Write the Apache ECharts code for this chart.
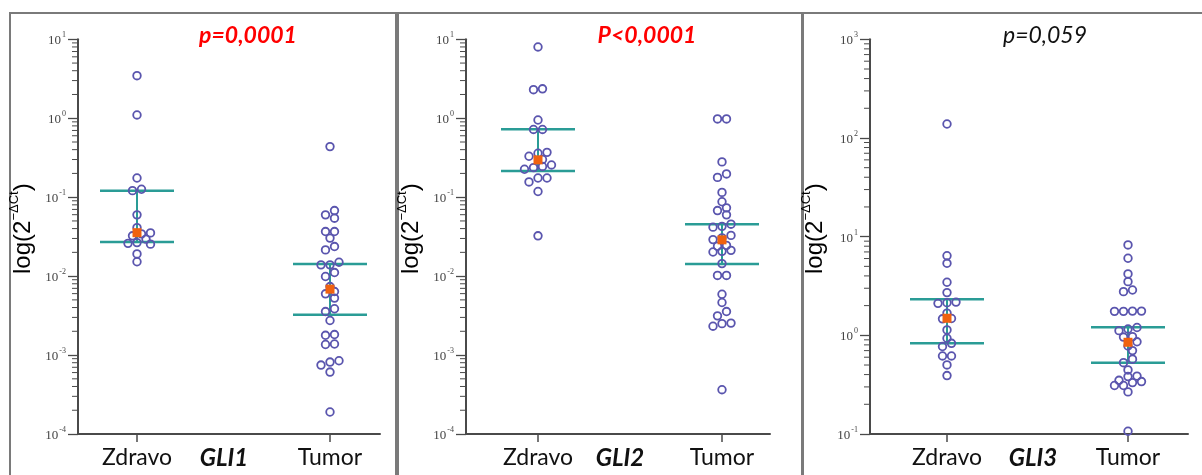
<!DOCTYPE html>
<html>
<head>
<meta charset="utf-8">
<script src="https://cdn.jsdelivr.net/npm/echarts@6/dist/echarts.min.js"></script>
<style>
html,body{margin:0;padding:0;background:#fff;}
#chart{width:1202px;height:475px;}
</style>
</head>
<body>
<div id="chart"></div>
<script>
// ---------------- data ----------------
const categories = ['Zdravo', 'Tumor'];
const genes = ['GLI1', 'GLI2', 'GLI3'];
const pValues = ['p=0,0001', 'P<0,0001', 'p=0,059'];

const gli1Zdravo = [3.46, 1.10, 0.175, 0.126, 0.121, 0.0597, 0.0412, 0.0353, 0.0343, 0.0324, 0.0294, 0.0266, 0.026, 0.0254, 0.0191, 0.0152];
const gli1Tumor = [0.437, 0.0677, 0.0597, 0.0542, 0.0367, 0.0367, 0.0303, 0.0237, 0.0215, 0.0150, 0.0139, 0.0139, 0.0111, 0.00989, 0.00738, 0.00638, 0.00597, 0.00527, 0.00386, 0.00356, 0.00274, 0.00182, 0.00178, 0.00138, 0.00136, 0.000847, 0.000815, 0.000747, 0.000609, 0.00019];
const gli2Zdravo = [8.0, 2.36, 2.30, 0.95, 0.721, 0.721, 0.37, 0.36, 0.33, 0.30, 0.256, 0.245, 0.237, 0.226, 0.175, 0.175, 0.156, 0.118, 0.0324];
const gli2Tumor = [0.98, 0.98, 0.28, 0.197, 0.178, 0.115, 0.0875, 0.0733, 0.0677, 0.0597, 0.0455, 0.0427, 0.0417, 0.0328, 0.0305, 0.029, 0.0245, 0.0239, 0.0212, 0.0206, 0.0202, 0.0144, 0.0102, 0.0102, 0.00589, 0.00463, 0.00356, 0.00314, 0.00254, 0.0025, 0.00232, 0.000364];
const gli3Zdravo = [138.6, 6.41, 5.37, 3.45, 2.71, 2.11, 2.14, 2.17, 1.68, 1.47, 1.48, 1.135, 0.935, 0.77, 0.83, 0.618, 0.618, 0.501, 0.391];
const gli3Tumor = [8.24, 6.04, 4.19, 3.5, 2.77, 2.88, 1.75, 1.75, 1.76, 1.76, 1.115, 1.16, 1.2, 0.97, 0.96, 0.86, 0.78, 0.70, 0.573, 0.528, 0.446, 0.382, 0.386, 0.332, 0.31, 0.31, 0.34, 0.35, 0.267, 0.1066];

// summary lines per category [Zdravo, Tumor]
const gli1Lower = [0.027, 0.00324], gli1Upper = [0.121, 0.0142], gli1Mean = [0.0355, 0.00684];
const gli2Lower = [0.215, 0.0142], gli2Upper = [0.727, 0.0455], gli2Mean = [0.297, 0.0288];
const gli3Lower = [0.832, 0.528], gli3Upper = [2.32, 1.21], gli3Mean = [1.49, 0.85];

// axis ranges (log10 exponents)
const yMinExp = [-4, -4, -1];
const yMaxExp = [1, 1, 3];
const minorMultipliers = [2, 3, 4, 5, 6, 7, 8, 9];

// ---------------- layout / style ----------------
const panelsData = [
  {z: gli1Zdravo, t: gli1Tumor, lo: gli1Lower, hi: gli1Upper, mean: gli1Mean},
  {z: gli2Zdravo, t: gli2Tumor, lo: gli2Lower, hi: gli2Upper, mean: gli2Mean},
  {z: gli3Zdravo, t: gli3Tumor, lo: gli3Lower, hi: gli3Upper, mean: gli3Mean}
];
const layout = [
  {fl: 78, fr: 380, dl: 137, dr: 330, box: [10, 13, 386], title: 248, gene: 224},
  {fl: 466, fr: 770, dl: 538, dr: 722, box: [398, 13, 404], title: 647, gene: 620},
  {fl: 870, fr: 1188, dl: 947, dr: 1128, box: [803, 13, 402], title: 1045, gene: 1033}
];
const TOP = 39.3, BOTTOM = 434;
const teal = '#2a9c96';
const circle = '#5a55ae';
const orange = '#f0620f';
const axisColor = '#4a4a4a';

// beeswarm layout in pixel space: rows of near-equal y centred on the category
const DOT = 9, ROW_TOL = 4.5, MIN_DIST = 6.4;
function swarmOffsets(ys) {
  const order = ys.map((y, i) => i).sort((a, b) => ys[a] - ys[b]);
  const placed = [];
  const off = new Array(ys.length).fill(0);
  let k = 0;
  while (k < order.length) {
    const row = [order[k]];
    const y0 = ys[order[k]];
    k++;
    while (k < order.length && ys[order[k]] - y0 <= ROW_TOL) { row.push(order[k]); k++; }
    row.sort((a, b) => ys[b] - ys[a]);
    const n = row.length;
    const base = row.map((j, i) => (i - (n - 1) / 2) * DOT);
    const shifts = [0, DOT / 2, -DOT / 2, DOT, -DOT, 1.5 * DOT, -1.5 * DOT, 2 * DOT, -2 * DOT];
    let chosen = 0;
    for (const s of shifts) {
      const ok = row.every((j, i) => placed.every(p => Math.hypot(p.x - (base[i] + s), p.y - ys[j]) >= MIN_DIST));
      if (ok) { chosen = s; break; }
    }
    row.forEach((j, i) => { off[j] = base[i] + chosen; placed.push({x: off[j], y: ys[j]}); });
  }
  return off;
}

const grid = [], xAxis = [], yAxis = [], series = [], graphic = [];

layout.forEach((L, p) => {
  const d = panelsData[p];
  const yMin = Math.pow(10, yMinExp[p]), yMax = Math.pow(10, yMaxExp[p]);
  grid.push({left: L.fl, top: TOP, width: L.fr - L.fl, height: BOTTOM - TOP});
  grid.push({left: L.dl, top: TOP, width: L.dr - L.dl, height: BOTTOM - TOP});
  const gf = 2 * p, gd = 2 * p + 1;
  xAxis.push({
    type: 'value', gridIndex: gf, min: 0, max: 1,
    axisLine: {show: true, onZero: false, lineStyle: {color: axisColor, width: 2}},
    axisTick: {show: false}, axisLabel: {show: false}, splitLine: {show: false}
  });
  xAxis.push({
    type: 'category', gridIndex: gd, data: categories, boundaryGap: false,
    axisLine: {show: false},
    axisTick: {show: true, length: 8, lineStyle: {color: axisColor, width: 1.5}},
    axisLabel: {margin: 12, fontFamily: 'Lato', fontSize: 23, color: '#111'},
    splitLine: {show: false}
  });
  yAxis.push({
    type: 'log', gridIndex: gf, min: yMin, max: yMax, logBase: 10,
    splitNumber: yMaxExp[p] - yMinExp[p],
    axisLine: {show: true, lineStyle: {color: axisColor, width: 2}},
    axisTick: {show: true, length: 10, lineStyle: {color: axisColor, width: 1.3}},
    splitLine: {show: false},
    axisLabel: {
      margin: 12,
      formatter: v => '{b|10}{s|' + Math.round(Math.log10(v)) + '}',
      rich: {
        b: {fontFamily: 'Liberation Serif', fontSize: 13, color: '#444', lineHeight: 16, verticalAlign: 'bottom'},
        s: {fontFamily: 'Liberation Serif', fontSize: 8, color: '#444', lineHeight: 16, verticalAlign: 'top', padding: [0, 0, 6, 1]}
      }
    },
    name: '{a|log(2}{s|−ΔCt}{a|)}',
    nameLocation: 'middle', nameRotate: 90, nameGap: 40,
    nameTextStyle: {
      padding: [0, 0, 0, 16],
      rich: {
        a: {fontFamily: 'Liberation Sans', fontSize: 24, color: '#000', lineHeight: 30},
        s: {fontFamily: 'Liberation Sans', fontSize: 13, color: '#000', lineHeight: 30, verticalAlign: 'top'}
      }
    }
  });
  yAxis.push({type: 'log', gridIndex: gd, min: yMin, max: yMax, logBase: 10, show: false});

  // minor ticks on the log axis
  const minor = [];
  for (let e = yMinExp[p]; e < yMaxExp[p]; e++) {
    minorMultipliers.forEach(m => minor.push([0, m * Math.pow(10, e)]));
  }
  series.push({
    type: 'custom', xAxisIndex: gf, yAxisIndex: gf, data: minor, silent: true, z: 1,
    renderItem: (params, api) => {
      const pt = api.coord([api.value(0), api.value(1)]);
      return {type: 'line', shape: {x1: pt[0] - 6, y1: pt[1], x2: pt[0], y2: pt[1]},
              style: {stroke: axisColor, lineWidth: 1}};
    }
  });

  // summary lines
  const summary = categories.map((c, i) => [c, d.lo[i], d.hi[i], d.mean[i]]);
  series.push({
    type: 'custom', xAxisIndex: gd, yAxisIndex: gd, data: summary, silent: true, z: 2,
    renderItem: (params, api) => {
      const c = api.value(0);
      const a = api.coord([c, api.value(1)]);
      const b = api.coord([c, api.value(2)]);
      const hw = 37;
      return {type: 'group', children: [
        {type: 'line', shape: {x1: a[0], y1: a[1], x2: b[0], y2: b[1]}, style: {stroke: teal, lineWidth: 2}},
        {type: 'line', shape: {x1: a[0] - hw, y1: a[1], x2: a[0] + hw, y2: a[1]}, style: {stroke: teal, lineWidth: 2.5}},
        {type: 'line', shape: {x1: b[0] - hw, y1: b[1], x2: b[0] + hw, y2: b[1]}, style: {stroke: teal, lineWidth: 2.5}}
      ]};
    }
  });

  // points (open circles, swarm-arranged)
  const pts = d.z.map(v => ['Zdravo', v]).concat(d.t.map(v => ['Tumor', v]));
  series.push({
    type: 'custom', xAxisIndex: gd, yAxisIndex: gd, data: pts, silent: true, z: 3,
    renderItem: (params, api) => {
      const c = api.value(0);
      const vals = c === 0 ? d.z : d.t;
      const li = c === 0 ? params.dataIndex : params.dataIndex - d.z.length;
      const ys = vals.map(v => api.coord([c, v])[1]);
      const offs = swarmOffsets(ys);
      const pt = api.coord([c, api.value(1)]);
      return {type: 'circle', shape: {cx: pt[0] + offs[li], cy: pt[1], r: 3.8},
              style: {fill: 'none', stroke: circle, lineWidth: 1.8}};
    }
  });

  // mean squares
  series.push({
    type: 'custom', xAxisIndex: gd, yAxisIndex: gd, data: summary, silent: true, z: 4,
    renderItem: (params, api) => {
      const m = api.coord([api.value(0), api.value(3)]);
      return {type: 'rect', shape: {x: m[0] - 4.5, y: m[1] - 4.5, width: 9, height: 9}, style: {fill: orange}};
    }
  });

  graphic.push({type: 'rect', shape: {x: L.box[0], y: L.box[1], width: L.box[2], height: 500},
                style: {fill: 'none', stroke: '#7a7a7a', lineWidth: 2}, silent: true, z: 0});
  graphic.push({type: 'text', x: L.title, y: 36,
                style: {text: pValues[p], fill: p < 2 ? '#ff0000' : '#111',
                        font: (p < 2 ? 'italic bold ' : 'italic ') + '23px Lato',
                        textAlign: 'center', textVerticalAlign: 'middle'}});
  graphic.push({type: 'text', x: L.gene, y: 458,
                style: {text: genes[p], fill: '#111', font: 'italic bold 24px Lato',
                        textAlign: 'center', textVerticalAlign: 'middle'}});
});

const chart = echarts.init(document.getElementById('chart'), null, {renderer: 'canvas'});
chart.setOption({
  animation: false,
  backgroundColor: '#fff',
  grid, xAxis, yAxis, series, graphic
});
</script>
</body>
</html>
